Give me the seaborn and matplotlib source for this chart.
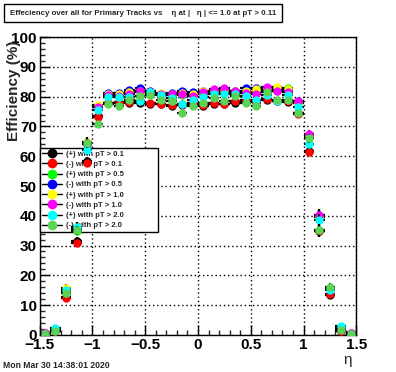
import matplotlib
matplotlib.use("Agg")
import matplotlib.pyplot as plt
import matplotlib.patches as mpatches
from matplotlib.lines import Line2D
from matplotlib.ticker import MultipleLocator, FuncFormatter
import pandas as pd
import seaborn as sns

# eta bin centres
eta = [-1.45, -1.35, -1.25, -1.15, -1.05, -0.95, -0.85, -0.75, -0.65, -0.55,
       -0.45, -0.35, -0.25, -0.15, -0.05, 0.05, 0.15, 0.25, 0.35, 0.45,
       0.55, 0.65, 0.75, 0.85, 0.95, 1.05, 1.15, 1.25, 1.35, 1.45]

pos_pt01 = [0.4, 1.2, 12.8, 31.5, 58.3, 73.5, 77.8, 78.0, 77.8, 77.9, 77.5, 77.4, 77.0, 77.2, 77.6,
            76.8, 77.6, 77.5, 78.0, 78.4, 78.2, 78.8, 78.5, 78.2, 74.5, 61.8, 34.8, 13.5, 1.2, 0.4]
neg_pt01 = [0.5, 1.3, 12.2, 31.0, 57.8, 73.2, 78.0, 78.3, 78.2, 78.5, 78.0, 77.5, 77.2, 77.6, 78.0,
            77.2, 78.0, 77.7, 78.5, 78.9, 78.5, 79.4, 78.7, 78.5, 74.2, 61.5, 35.0, 13.8, 1.3, 0.3]
pos_pt05 = [0.5, 1.5, 14.0, 35.0, 64.0, 77.0, 80.5, 80.0, 81.0, 81.5, 81.0, 80.8, 80.5, 80.5, 80.5,
            81.0, 81.5, 81.5, 81.5, 81.5, 81.5, 82.0, 82.0, 83.0, 78.0, 66.5, 39.5, 15.5, 2.0, 0.5]
neg_pt05 = [0.5, 1.8, 14.5, 35.5, 64.2, 76.8, 81.4, 81.3, 82.2, 82.8, 81.8, 81.0, 81.4, 81.8, 81.7,
            82.0, 82.0, 82.0, 81.8, 82.8, 83.0, 82.5, 82.5, 82.0, 78.5, 67.0, 40.0, 15.8, 2.5, 0.5]
pos_pt10 = [0.6, 2.0, 15.8, 36.3, 64.9, 77.2, 81.0, 80.8, 81.5, 82.0, 81.5, 81.4, 81.0, 81.2, 81.0,
            82.0, 82.0, 82.3, 81.8, 82.0, 82.5, 83.0, 83.4, 82.5, 78.3, 66.8, 39.8, 15.6, 2.3, 0.5]
neg_pt10 = [0.5, 1.8, 14.8, 35.8, 64.5, 76.5, 80.5, 80.2, 81.0, 81.9, 81.2, 80.8, 80.8, 81.0, 80.2,
            81.5, 82.5, 82.8, 82.0, 81.4, 81.0, 83.3, 82.0, 81.7, 78.6, 67.4, 40.3, 15.8, 2.2, 0.6]
pos_pt20 = [0.4, 2.3, 15.0, 36.3, 62.0, 75.5, 80.0, 80.0, 80.0, 78.6, 81.6, 80.5, 79.5, 77.7, 79.0,
            80.0, 80.8, 80.8, 81.0, 80.2, 79.0, 80.5, 78.6, 80.5, 76.6, 64.0, 38.6, 14.9, 3.0, 0.4]
neg_pt20 = [0.3, 1.3, 14.0, 35.2, 64.4, 71.0, 77.5, 76.8, 79.0, 80.3, 80.5, 78.9, 78.6, 74.6, 77.0,
            78.0, 79.6, 78.6, 80.2, 78.0, 76.8, 81.7, 79.0, 78.9, 74.6, 66.0, 35.2, 16.2, 1.5, 0.3]

# statistical error (same for all samples, estimated)
eff_err = [0.3, 0.8, 1.2, 1.5, 1.5, 0.9, 0.7, 0.7, 0.7, 0.7, 0.7, 0.7, 0.7, 0.7, 0.7,
           0.7, 0.7, 0.7, 0.7, 0.7, 0.7, 0.7, 0.7, 0.7, 0.9, 1.5, 2.0, 1.2, 0.8, 0.3]

labels = ["(+) with pT > 0.1", "(-) with pT > 0.1", "(+) with pT > 0.5", "(-) with pT > 0.5",
          "(+) with pT > 1.0", "(-) with pT > 1.0", "(+) with pT > 2.0", "(-) with pT > 2.0"]
colors = ["#000000", "#ff0000", "#00ff00", "#0000ff",
          "#ffff00", "#ff00ff", "#00ffff", "#59d454"]
series = [pos_pt01, neg_pt01, pos_pt05, neg_pt05, pos_pt10, neg_pt10, pos_pt20, neg_pt20]

sns.set_style("ticks")
plt.rcParams["font.family"] = ["Liberation Sans", "DejaVu Sans"]

fig = plt.figure(figsize=(3.96, 3.72), dpi=100)
ax = fig.add_axes([0.1, 0.1, 0.8, 0.8])

for i, (lab, col, vals) in enumerate(zip(labels, colors, series)):
    df = pd.DataFrame({"eta": eta, "eff": vals, "err": eff_err})
    ax.errorbar(df["eta"], df["eff"], xerr=0.05, yerr=df["err"], fmt="none",
                ecolor="black", elinewidth=1.6, capsize=0, zorder=3 + 2 * i)
    sns.scatterplot(data=df, x="eta", y="eff", ax=ax, color=col, s=36,
                    edgecolor=col, linewidth=0, zorder=4 + 2 * i, legend=False)

ax.set_xlim(-1.5, 1.5)
ax.set_ylim(0, 100)
ax.xaxis.set_major_locator(MultipleLocator(0.5))
ax.xaxis.set_minor_locator(MultipleLocator(0.1))
ax.yaxis.set_major_locator(MultipleLocator(10))
ax.yaxis.set_minor_locator(MultipleLocator(2))
fmt = FuncFormatter(lambda v, p: "{:g}".format(round(v, 2)).replace("-", "\u2212"))
ax.xaxis.set_major_formatter(fmt)
ax.yaxis.set_major_formatter(fmt)
ax.tick_params(which="major", direction="in", length=7, width=1, labelsize=11,
               top=False, right=False, pad=2, colors="black")
ax.tick_params(which="minor", direction="in", length=3.5, width=1, top=False, right=False)
for t in ax.get_xticklabels() + ax.get_yticklabels():
    t.set_fontweight("bold")
ax.grid(True, which="major", color="black", linestyle=(0, (1, 2)), linewidth=1)
ax.set_axisbelow(True)
for s in ax.spines.values():
    s.set_linewidth(1)
    s.set_color("black")

ax.set_xlabel("\u03b7", loc="right", fontsize=11)
ax.xaxis.set_label_coords(0.985, -0.06)
ax.set_ylabel("Efficiency (%)", loc="top", fontsize=11, fontweight="bold")
ax.yaxis.set_label_coords(-0.06, 0.99)

handles = [Line2D([], [], color="black", lw=1, marker="o", markersize=6,
                  markerfacecolor=c, markeredgecolor=c) for c in colors]
leg = ax.legend(handles, labels, loc="upper left", bbox_to_anchor=(0.0, 0.379, 0.3725, 0.2485),
                mode="expand", borderaxespad=0, prop={"weight": "bold", "size": 5.5},
                frameon=True, fancybox=False, framealpha=1, edgecolor="black",
                handlelength=2.6, handletextpad=0.6, labelspacing=0.38, borderpad=0.3)
leg.get_frame().set_linewidth(1)
leg.set_zorder(2.5)

fig.add_artist(mpatches.Rectangle((4 / 396, 1 - 22 / 372), 278 / 396, 18 / 372,
                                  transform=fig.transFigure, facecolor="white",
                                  edgecolor="black", linewidth=1))
fig.text(10 / 396, 1 - 13.5 / 372,
         "Effeciency over all for Primary Tracks vs    \u03b7 at |   \u03b7 | <= 1.0 at pT > 0.11",
         fontsize=5.7, fontweight="bold", va="center", ha="left")
fig.text(3 / 396, 1 - 365 / 372, "Mon Mar 30 14:38:01 2020", fontsize=6.2,
         fontweight="bold", va="center", ha="left")

fig.savefig("out.png", dpi=100)
